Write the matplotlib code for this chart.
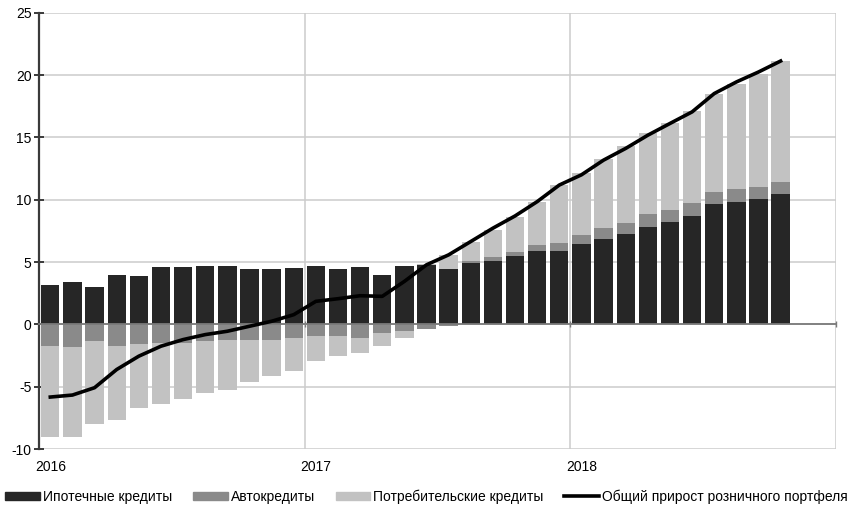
import numpy as np
import matplotlib.pyplot as plt
from matplotlib.patches import Patch
from matplotlib.lines import Line2D

plt.rcParams['font.family'] = ['Liberation Sans', 'DejaVu Sans']
plt.rcParams['axes.unicode_minus'] = False

# monthly data, Jan 2016 .. Oct 2018
years = ["2016", "2017", "2018"]
mortgage = [3.18, 3.40, 2.97, 3.98, 3.90, 4.60, 4.60, 4.65, 4.65, 4.46, 4.45, 4.50,
            4.65, 4.46, 4.57, 3.93, 4.65, 4.75, 4.44, 4.92, 5.05, 5.50, 5.85, 5.90,
            6.46, 6.84, 7.24, 7.85, 8.25, 8.70, 9.64, 9.85, 10.06, 10.44]
auto = [-1.75, -1.82, -1.30, -1.70, -1.57, -1.50, -1.50, -1.30, -1.28, -1.28, -1.28, -1.10,
        -0.90, -0.90, -1.08, -0.68, -0.50, -0.36, -0.15, 0.13, 0.35, 0.30, 0.53, 0.67,
        0.72, 0.88, 0.93, 1.01, 0.93, 1.02, 1.01, 0.99, 0.99, 1.01]
consumer = [-7.25, -7.18, -6.72, -6.00, -5.11, -4.92, -4.47, -4.24, -3.99, -3.32, -2.87, -2.62,
            -2.00, -1.65, -1.20, -1.02, -0.58, 0.10, 1.14, 1.60, 2.18, 2.85, 3.47, 4.61,
            4.94, 5.52, 6.13, 6.46, 6.99, 7.41, 7.87, 8.48, 9.07, 9.68]
total = [-5.83, -5.67, -5.08, -3.62, -2.55, -1.75, -1.22, -0.82, -0.55, -0.15, 0.25, 0.78,
         1.85, 2.06, 2.30, 2.25, 3.45, 4.78, 5.58, 6.65, 7.72, 8.70, 9.85, 11.18,
         12.00, 13.18, 14.12, 15.18, 16.12, 17.05, 18.52, 19.45, 20.25, 21.13]

labels = ["Ипотечные кредиты", "Автокредиты", "Потребительские кредиты",
          "Общий прирост розничного портфеля"]
colors = ["#262626", "#8a8a8a", "#c2c2c2"]

fig = plt.figure(figsize=(8.53, 5.12), dpi=100)
ax = fig.add_axes([0.046, 0.123, 0.934, 0.852])

x = np.arange(len(mortgage))
pos = np.zeros(len(x))
neg = np.zeros(len(x))
for vals, c in zip([mortgage, auto, consumer], colors):
    v = np.array(vals)
    ax.bar(x, v, 0.83, bottom=np.where(v >= 0, pos, neg), color=c, zorder=2)
    pos += np.clip(v, 0, None)
    neg += np.clip(v, None, 0)

ax.plot(x, total, color="black", lw=2.6, solid_joinstyle="round", zorder=3)

ax.set_xlim(-0.5, 35.5)
ax.set_ylim(-10, 25)
ax.set_yticks(np.arange(-10, 26, 5))
ax.set_xticks([11.5, 23.5, 35.5])
ax.set_xticklabels([])
ax.grid(True, color="#cccccc", lw=1.1, zorder=0)

for s in ["top", "right"]:
    ax.spines[s].set_visible(False)
ax.spines["bottom"].set_position(("data", 0))
ax.spines["bottom"].set_color("#7a7a7a")
ax.spines["bottom"].set_linewidth(1.3)
ax.spines["bottom"].set_zorder(2.5)
ax.spines["left"].set_color("#3a3a3a")
ax.spines["left"].set_linewidth(1.6)
ax.tick_params(axis="y", direction="inout", length=7, width=1.4, color="#3a3a3a",
               labelsize=10, pad=2)
ax.tick_params(axis="x", direction="inout", length=5, width=1.0, color="#7a7a7a")

for i, yr in enumerate(years):
    ax.text(i * 12, -0.041, yr, transform=ax.get_xaxis_transform(),
            ha="center", va="center", fontsize=10)

handles = [Patch(color=c) for c in colors] + [Line2D([], [], color="black", lw=2.6)]
fig.legend(handles, labels, loc="center", bbox_to_anchor=(0.5, 0.03), ncol=4,
           frameon=False, fontsize=10, handlelength=2.5, handleheight=0.55,
           handletextpad=0.2, columnspacing=1.5)

fig.savefig("out.png", dpi=100)
